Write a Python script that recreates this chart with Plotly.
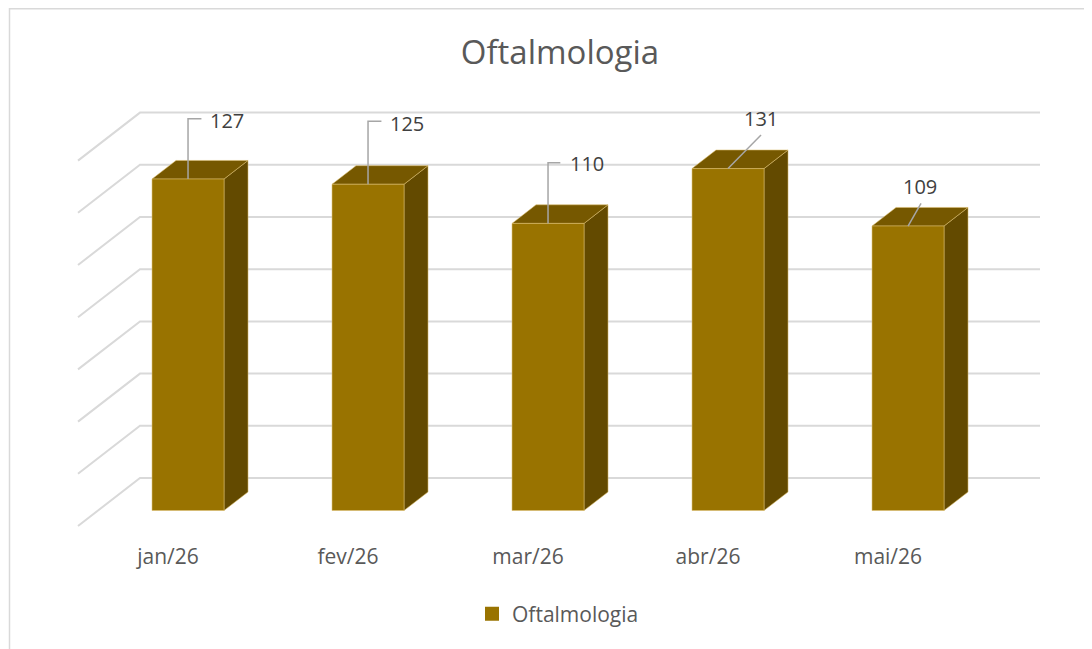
import plotly.graph_objects as go

# ---- data ----
categories = ["jan/26", "fev/26", "mar/26", "abr/26", "mai/26"]
values = [127, 125, 110, 131, 109]
series_name = "Oftalmologia"
grid_values = [0, 20, 40, 60, 80, 100, 120, 140]

# ---- layout / projection constants (pixels, figure coordinates) ----
W, H = 1092, 649
OFF = 8               # page body margin offset of the plot div
X0PIX = 168.0 - OFF   # pixel x of category 0 at floor front
CATPX = 180.0         # pixels per category
Y0PIX = 526.0 - OFF   # pixel y of value 0 at floor front
UNITPX = 2.61         # pixels per value unit
PLOT_BOTTOM = 534     # pixel where plot area ends (x tick labels below)

DX = 62.0 / CATPX      # depth shift in category units
DY = 48.0 / UNITPX     # depth shift in value units
D0, D1 = 0.323, 0.71   # bar front / back depth fractions
HW = 0.2               # bar half width (category units)

# label offsets in pixels relative to top-front-centre of each bar
label_off = [(39, -59), (38.5, -61), (38.5, -59.5), (32.7, -50.3), (11.5, -40)]
# leader polyline vertices in pixel offsets
leader_pts = [
    [(0, 0), (0, -60.3), (13.4, -60.3)],
    [(0, 0), (0, -63), (13.4, -63)],
    [(0, 0), (0, -60.7), (12.3, -60.7)],
    [(0, 0), (33, -33.6)],
    [(0, 0), (13, -22.7)],
]

FRONT = "#997300"
TOP = "#765800"
SIDE = "#634A00"
EDGE = "rgba(220,190,110,0.55)"
GRID = "#D9D9D9"
TXT = "#595959"
FONT = "Open Sans"

xr = [(0 - X0PIX) / CATPX, (W - X0PIX) / CATPX]
yr = [(Y0PIX - PLOT_BOTTOM) / UNITPX, Y0PIX / UNITPX]

fig = go.Figure()

# ---- walls: gridlines ----
xl, xrt = -0.5, len(categories) - 0.5
for g in grid_values:
    fig.add_trace(go.Scatter(
        x=[xl, xl + DX, xrt + DX], y=[g, g + DY, g + DY],
        mode="lines", line=dict(color=GRID, width=2),
        hoverinfo="skip", showlegend=False))

# ---- bars ----
for i, v in enumerate(values):
    cf = i + D0 * DX
    cb = i + D1 * DX
    b0, b1 = D0 * DY, D1 * DY
    t0, t1 = v + D0 * DY, v + D1 * DY
    # right side face
    fig.add_trace(go.Scatter(
        x=[cf + HW, cb + HW, cb + HW, cf + HW, cf + HW],
        y=[b0, b1, t1, t0, b0], mode="lines", fill="toself",
        fillcolor=SIDE, line=dict(color=EDGE, width=1),
        hoverinfo="skip", showlegend=False))
    # top face
    fig.add_trace(go.Scatter(
        x=[cf - HW, cf + HW, cb + HW, cb - HW, cf - HW],
        y=[t0, t0, t1, t1, t0], mode="lines", fill="toself",
        fillcolor=TOP, line=dict(color=EDGE, width=1),
        hoverinfo="skip", showlegend=False))
    # front face
    fig.add_trace(go.Scatter(
        x=[cf - HW, cf + HW, cf + HW, cf - HW, cf - HW],
        y=[b0, b0, t0, t0, b0], mode="lines", fill="toself",
        fillcolor=FRONT, line=dict(color=EDGE, width=1),
        hoverinfo="skip", showlegend=False, name=categories[i]))
    # leader line
    pts = leader_pts[i]
    fig.add_trace(go.Scatter(
        x=[i + D0 * DX + px / CATPX for px, _ in pts],
        y=[t0 - py / UNITPX for _, py in pts],
        mode="lines", line=dict(color="#A6A6A6", width=1.5),
        hoverinfo="skip", showlegend=False))
    # value label
    ox, oy = label_off[i]
    fig.add_annotation(x=cf, y=t0, text=str(v), showarrow=False,
                       xshift=ox, yshift=-oy,
                       font=dict(family=FONT, size=20, color="#404040"),
                       xanchor="center", yanchor="middle")

# legend entry
fig.add_trace(go.Scatter(
    x=[None], y=[None], mode="markers", name=series_name,
    marker=dict(symbol="square", size=14, color=FRONT)))

fig.update_layout(
    width=W, height=H,
    margin=dict(l=0, r=0, t=0, b=0),
    paper_bgcolor="white", plot_bgcolor="white",
    title=dict(text="Oftalmologia", x=(560 - OFF) / W, xanchor="center",
               y=1 - (52 - OFF) / H, yanchor="middle",
               font=dict(family=FONT, size=33, color=TXT)),
    xaxis=dict(range=xr, tickvals=list(range(len(categories))),
               ticktext=categories, showgrid=False, zeroline=False,
               showline=False, ticks="",
               tickfont=dict(family=FONT, size=21, color=TXT)),
    yaxis=dict(range=yr, domain=[1 - PLOT_BOTTOM / H, 1],
               visible=False),
    showlegend=True,
    legend=dict(orientation="h", x=550 / W, xanchor="center",
                y=1 - (614 - OFF) / H, yanchor="middle",
                font=dict(family=FONT, size=21, color=TXT)),
    shapes=[dict(type="rect", xref="paper", yref="paper",
                 x0=1.5 / W, y0=-0.05, x1=1.05, y1=1 - 0.8 / H,
                 line=dict(color=GRID, width=1.5))],
)

fig.write_html("out.html")
